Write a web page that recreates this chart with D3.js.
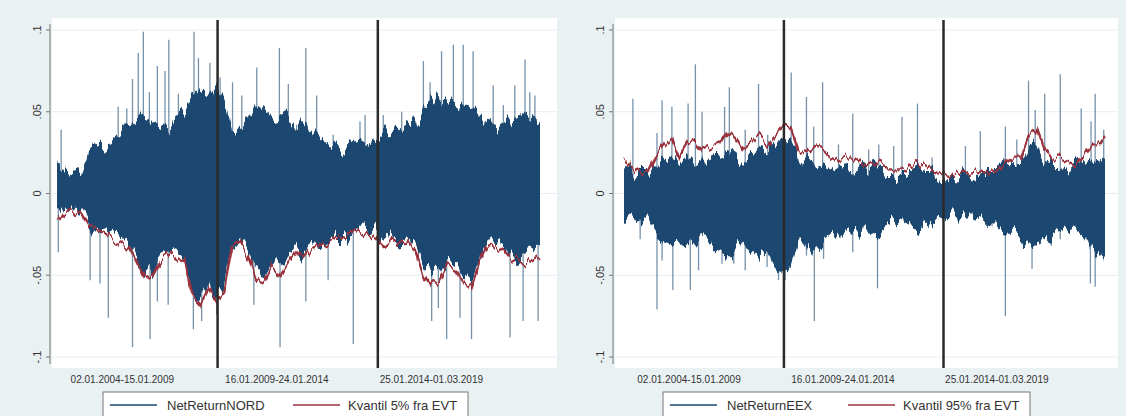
<!DOCTYPE html>
<html>
<head>
<meta charset="utf-8">
<script src="https://cdn.jsdelivr.net/npm/d3@7"></script>
<style>
  body { margin: 0; background: #fff; }
  svg { display: block; font-family: "Liberation Sans", Arial, sans-serif; }
</style>
</head>
<body>
<div id="vis"></div>
<script>
// sample points, decimal years (quarterly)
const quarters = [2004, 2004.25, 2004.5, 2004.75, 2005, 2005.25, 2005.5, 2005.75,
  2006, 2006.25, 2006.5, 2006.75, 2007, 2007.25, 2007.5, 2007.75,
  2008, 2008.25, 2008.5, 2008.75, 2009, 2009.25, 2009.5, 2009.75,
  2010, 2010.25, 2010.5, 2010.75, 2011, 2011.25, 2011.5, 2011.75,
  2012, 2012.25, 2012.5, 2012.75, 2013, 2013.25, 2013.5, 2013.75,
  2014, 2014.25, 2014.5, 2014.75, 2015, 2015.25, 2015.5, 2015.75,
  2016, 2016.25, 2016.5, 2016.75, 2017, 2017.25, 2017.5, 2017.75,
  2018, 2018.25, 2018.5, 2018.75, 2019, 2019.16];

// NORD: dense band of daily returns (upper / lower) and 5% EVT quantile
const nordHigh = [0.016, 0.014, 0.013, 0.012, 0.026, 0.032, 0.030, 0.034,
  0.038, 0.040, 0.046, 0.048, 0.044, 0.040, 0.042, 0.046,
  0.050, 0.060, 0.064, 0.060, 0.066, 0.058, 0.040, 0.038,
  0.044, 0.054, 0.050, 0.046, 0.048, 0.046, 0.042, 0.044,
  0.040, 0.034, 0.032, 0.030, 0.028, 0.030, 0.032, 0.034,
  0.036, 0.040, 0.036, 0.040, 0.044, 0.042, 0.052, 0.056,
  0.060, 0.056, 0.054, 0.056, 0.052, 0.048, 0.044, 0.046,
  0.040, 0.046, 0.050, 0.048, 0.046, 0.044];
const nordLow = [-0.014, -0.010, -0.009, -0.010, -0.018, -0.022, -0.024, -0.026,
  -0.028, -0.032, -0.040, -0.048, -0.046, -0.038, -0.036, -0.038,
  -0.040, -0.060, -0.066, -0.056, -0.064, -0.058, -0.030, -0.028,
  -0.036, -0.048, -0.050, -0.040, -0.046, -0.040, -0.034, -0.036,
  -0.032, -0.030, -0.028, -0.026, -0.026, -0.024, -0.022, -0.024,
  -0.026, -0.030, -0.026, -0.030, -0.028, -0.032, -0.046, -0.052,
  -0.050, -0.040, -0.044, -0.050, -0.054, -0.040, -0.030, -0.030,
  -0.032, -0.036, -0.040, -0.038, -0.036, -0.034];
const nordQ5 = [-0.016, -0.012, -0.011, -0.012, -0.020, -0.023, -0.025, -0.028,
  -0.030, -0.033, -0.042, -0.052, -0.050, -0.040, -0.037, -0.040,
  -0.042, -0.062, -0.068, -0.058, -0.066, -0.060, -0.032, -0.030,
  -0.038, -0.052, -0.054, -0.044, -0.050, -0.042, -0.036, -0.040,
  -0.034, -0.032, -0.030, -0.027, -0.028, -0.025, -0.023, -0.025,
  -0.027, -0.032, -0.028, -0.031, -0.030, -0.034, -0.050, -0.056,
  -0.054, -0.044, -0.046, -0.054, -0.058, -0.042, -0.032, -0.031,
  -0.034, -0.040, -0.042, -0.042, -0.040, -0.038];
// single-day extremes [year, return]
const nordSpikes = [
  [2004.13, 0.039], [2005.92, 0.053], [2006.19, 0.052], [2006.37, 0.070], [2006.55, 0.086],
  [2006.71, 0.099], [2006.90, 0.062], [2007.15, 0.078], [2007.39, 0.075], [2007.51, 0.094],
  [2007.81, 0.061], [2008.30, 0.099], [2008.44, 0.083], [2008.80, 0.080], [2009.12, 0.071],
  [2009.51, 0.068], [2009.80, 0.060], [2010.27, 0.077], [2010.98, 0.089], [2011.26, 0.067],
  [2011.52, 0.042], [2011.81, 0.089], [2012.15, 0.060], [2012.67, 0.036], [2013.51, 0.044],
  [2013.67, 0.048], [2014.24, 0.048], [2014.82, 0.050], [2015.50, 0.081], [2015.71, 0.068],
  [2016.07, 0.087], [2016.44, 0.091], [2016.75, 0.091], [2017.06, 0.087], [2017.69, 0.066],
  [2018.01, 0.054], [2018.37, 0.066], [2018.69, 0.082], [2018.84, 0.062], [2019.00, 0.060],
  [2019.10, 0.040],
  [2004.04, -0.036], [2005.04, -0.053], [2005.35, -0.055], [2005.61, -0.076], [2006.37, -0.094],
  [2006.92, -0.089], [2007.15, -0.066], [2007.49, -0.068], [2008.28, -0.083], [2008.54, -0.078],
  [2009.01, -0.074], [2010.18, -0.068], [2011.00, -0.094], [2011.81, -0.066], [2012.51, -0.053],
  [2013.30, -0.092], [2015.76, -0.078], [2015.97, -0.070], [2016.23, -0.089], [2016.65, -0.076],
  [2017.01, -0.089], [2018.22, -0.088], [2018.63, -0.078], [2019.10, -0.078]
];

// EEX: dense band and 95% EVT quantile
const eexHigh = [0.018, 0.014, 0.012, 0.012, 0.016, 0.020, 0.020, 0.018,
  0.022, 0.022, 0.020, 0.022, 0.024, 0.026, 0.024, 0.020,
  0.022, 0.026, 0.024, 0.030, 0.034, 0.030, 0.020, 0.018,
  0.020, 0.018, 0.016, 0.014, 0.014, 0.016, 0.014, 0.016,
  0.014, 0.012, 0.012, 0.012, 0.012, 0.014, 0.012, 0.012,
  0.010, 0.010, 0.010, 0.010, 0.010, 0.012, 0.012, 0.012,
  0.016, 0.018, 0.018, 0.028, 0.030, 0.020, 0.018, 0.018,
  0.016, 0.016, 0.020, 0.024, 0.022, 0.024];
const eexLow = [-0.016, -0.016, -0.014, -0.016, -0.024, -0.028, -0.030, -0.026,
  -0.030, -0.032, -0.030, -0.030, -0.034, -0.036, -0.036, -0.030,
  -0.034, -0.038, -0.036, -0.044, -0.050, -0.046, -0.030, -0.030,
  -0.034, -0.030, -0.026, -0.022, -0.022, -0.024, -0.022, -0.022,
  -0.024, -0.020, -0.018, -0.020, -0.018, -0.020, -0.018, -0.016,
  -0.016, -0.014, -0.014, -0.014, -0.014, -0.016, -0.016, -0.018,
  -0.024, -0.024, -0.026, -0.030, -0.030, -0.028, -0.026, -0.024,
  -0.024, -0.022, -0.026, -0.036, -0.038, -0.036];
const eexQ95 = [0.020, 0.016, 0.013, 0.012, 0.022, 0.030, 0.034, 0.022,
  0.030, 0.032, 0.026, 0.028, 0.030, 0.038, 0.034, 0.026,
  0.030, 0.034, 0.030, 0.036, 0.042, 0.040, 0.026, 0.024,
  0.028, 0.026, 0.022, 0.020, 0.022, 0.022, 0.018, 0.020,
  0.018, 0.016, 0.016, 0.016, 0.015, 0.018, 0.016, 0.014,
  0.013, 0.012, 0.012, 0.012, 0.013, 0.014, 0.013, 0.014,
  0.018, 0.022, 0.022, 0.036, 0.040, 0.026, 0.022, 0.022,
  0.020, 0.018, 0.024, 0.030, 0.030, 0.034];
const eexSpikes = [
  [2004.28, 0.058], [2005.04, 0.037], [2005.20, 0.057], [2005.51, 0.053], [2006.02, 0.055],
  [2006.25, 0.079], [2006.46, 0.050], [2007.17, 0.053], [2007.32, 0.065], [2007.82, 0.039],
  [2008.24, 0.067], [2008.53, 0.036], [2009.27, 0.074], [2009.75, 0.059], [2009.98, 0.041],
  [2010.26, 0.068], [2010.76, 0.030], [2011.21, 0.049], [2011.71, 0.027], [2012.03, 0.030],
  [2012.50, 0.029], [2012.76, 0.047], [2013.25, 0.055], [2013.71, 0.022], [2014.76, 0.029],
  [2015.23, 0.038], [2016.02, 0.041], [2016.38, 0.033], [2016.75, 0.069], [2016.96, 0.051],
  [2017.26, 0.061], [2017.75, 0.073], [2018.41, 0.052], [2018.72, 0.044], [2018.85, 0.061],
  [2019.12, 0.039],
  [2004.51, -0.028], [2005.04, -0.071], [2005.20, -0.041], [2005.54, -0.059], [2006.09, -0.059],
  [2006.35, -0.047], [2007.09, -0.043], [2007.46, -0.043], [2007.82, -0.047], [2008.51, -0.045],
  [2008.87, -0.053], [2009.08, -0.053], [2009.75, -0.038], [2010.00, -0.078], [2010.29, -0.040],
  [2011.21, -0.036], [2011.99, -0.058], [2013.29, -0.025], [2015.60, -0.020], [2016.02, -0.075],
  [2016.86, -0.046], [2017.47, -0.032], [2017.75, -0.028], [2018.70, -0.055], [2018.85, -0.057],
  [2019.12, -0.032]
];

const yTicks = [-0.1, -0.05, 0, 0.05, 0.1];
const yTickLabels = ['-.1', '-.05', '0', '.05', '.1'];
const periodBreaks = [2009.04, 2014.07];
const periodLabels = ['02.01.2004-15.01.2009', '16.01.2009-24.01.2014', '25.01.2014-01.03.2019'];
const periodLabelAt = [2006.05, 2010.9, 2015.75];

const W = 1126, H = 416;
const navy = '#1a476f', maroon = '#9a333d';

let svg = d3.select('#vis')
  .append('svg')
  .attr('width', W)
  .attr('height', H)
  .style('background-color', '#eaf1f3');

// rough, day-to-day look for the band edges (vertical jitter only)
function jitterFilter(id, scale, freq) {
  let f = svg.append('defs').append('filter').attr('id', id)
    .attr('x', '-2%').attr('y', '-30%').attr('width', '104%').attr('height', '160%');
  f.append('feTurbulence').attr('type', 'fractalNoise')
    .attr('baseFrequency', freq + ' 0.01').attr('numOctaves', 3).attr('seed', 7).attr('result', 'n');
  f.append('feColorMatrix').attr('in', 'n').attr('type', 'matrix')
    .attr('values', '1 0 0 0 0  0 0 0 0 0.5  0 0 0 0 0  0 0 0 0 1').attr('result', 'm');
  f.append('feDisplacementMap').attr('in', 'SourceGraphic').attr('in2', 'm')
    .attr('scale', scale).attr('xChannelSelector', 'G').attr('yChannelSelector', 'R');
}
jitterFilter('jagBand', 34, 0.18);
jitterFilter('jagLine', 16, 0.22);

function drawPanel(p) {
  let g = svg.append('g');

  let x = d3.scaleLinear().domain([2004, 2019.16]).range(p.dataRange);
  let y = d3.scaleLinear().domain([-0.1, 0.1]).range([357, 30]);

  // plot region
  g.append('rect')
    .attr('x', p.plot[0]).attr('y', 18)
    .attr('width', p.plot[1] - p.plot[0]).attr('height', 350)
    .attr('fill', '#fff');

  // grid
  g.selectAll('.grid').data(yTicks).enter().append('line')
    .attr('x1', p.plot[0]).attr('x2', p.plot[1])
    .attr('y1', d => y(d)).attr('y2', d => y(d))
    .attr('stroke', '#e6eef1').attr('stroke-width', 1);

  // single-day extremes
  g.selectAll('.spike').data(p.spikes).enter().append('line')
    .attr('x1', d => x(d[0])).attr('x2', d => x(d[0]))
    .attr('y1', y(0)).attr('y2', d => y(d[1]))
    .attr('stroke', navy).attr('stroke-opacity', 0.6).attr('stroke-width', 1.3);

  // dense band of returns
  let band = quarters.map((q, i) => [q, p.high[i], p.low[i]]);
  g.append('path')
    .datum(band)
    .attr('d', d3.area().x(d => x(d[0])).y0(d => y(d[2])).y1(d => y(d[1])))
    .attr('fill', navy)
    .attr('filter', 'url(#jagBand)');

  // EVT quantile
  g.append('path')
    .datum(quarters.map((q, i) => [q, p.quant[i]]))
    .attr('d', d3.line().x(d => x(d[0])).y(d => y(d[1])))
    .attr('fill', 'none').attr('stroke', maroon).attr('stroke-width', 2.3)
    .attr('filter', 'url(#jagLine)');

  // period separators
  g.selectAll('.xline').data(periodBreaks).enter().append('line')
    .attr('x1', d => x(d)).attr('x2', d => x(d))
    .attr('y1', 20).attr('y2', 368)
    .attr('stroke', '#2a2a2a').attr('stroke-width', 2.5);

  // y axis
  let ax = p.axisX;
  g.append('line')
    .attr('x1', ax).attr('x2', ax).attr('y1', 24).attr('y2', 364)
    .attr('stroke', '#777').attr('stroke-width', 1);
  g.selectAll('.tick').data(yTicks).enter().append('line')
    .attr('x1', ax - 4).attr('x2', ax)
    .attr('y1', d => y(d)).attr('y2', d => y(d))
    .attr('stroke', '#777');
  g.selectAll('.ylab').data(yTicks).enter().append('text')
    .attr('transform', d => `translate(${ax - 9},${y(d)}) rotate(-90)`)
    .attr('text-anchor', 'middle')
    .attr('font-size', 11)
    .attr('fill', '#333')
    .text((d, i) => yTickLabels[i]);

  // x labels
  g.selectAll('.xlab').data(periodLabels).enter().append('text')
    .attr('x', (d, i) => x(periodLabelAt[i]))
    .attr('y', 383)
    .attr('text-anchor', 'middle')
    .attr('font-size', 10)
    .attr('fill', '#333')
    .text(d => d);

  // legend
  let lg = g.append('g').attr('transform', `translate(${p.legendX},392)`);
  lg.append('rect')
    .attr('width', p.legendW).attr('height', 40)
    .attr('fill', '#fff').attr('stroke', '#777').attr('stroke-width', 1);
  lg.append('line').attr('x1', 7).attr('x2', 54).attr('y1', 13).attr('y2', 13)
    .attr('stroke', navy).attr('stroke-width', 1.5);
  lg.append('text').attr('x', 64).attr('y', 18).attr('font-size', 13).attr('fill', '#333')
    .text(p.names[0]);
  lg.append('line').attr('x1', p.redX).attr('x2', p.redX + 47).attr('y1', 13).attr('y2', 13)
    .attr('stroke', maroon).attr('stroke-width', 1.5);
  lg.append('text').attr('x', p.redX + 55).attr('y', 18).attr('font-size', 13).attr('fill', '#333')
    .text(p.names[1]);
}

drawPanel({
  plot: [52, 557], dataRange: [57, 540], axisX: 50,
  high: nordHigh, low: nordLow, quant: nordQ5, spikes: nordSpikes,
  names: ['NetReturnNORD', 'Kvantil 5% fra EVT'],
  legendX: 103, legendW: 365, redX: 190
});

drawPanel({
  plot: [615, 1118], dataRange: [624, 1105], axisX: 613,
  high: eexHigh, low: eexLow, quant: eexQ95, spikes: eexSpikes,
  names: ['NetReturnEEX', 'Kvantil 95% fra EVT'],
  legendX: 663, legendW: 367, redX: 185
});
</script>
</body>
</html>
